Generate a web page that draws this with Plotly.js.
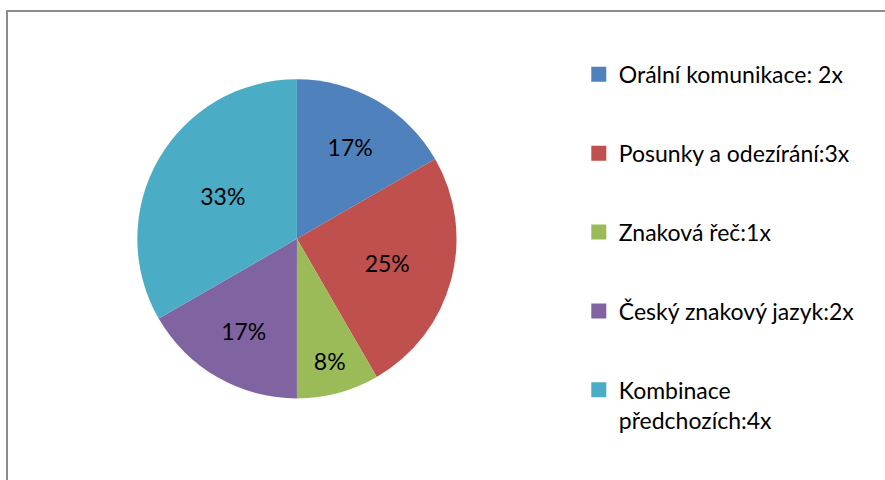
<!DOCTYPE html>
<html>
<head>
<meta charset="utf-8">
<script src="https://cdn.plot.ly/plotly-3.0.1.min.js"></script>
<style>
  html, body { margin: 0; padding: 0; background: #fff; overflow: hidden; }
  #chart { width: 885px; height: 480px; }
  #frame { position: absolute; left: 6px; top: 10px; width: 900px; height: 500px;
           border-left: 2px solid #8c8c8c; border-top: 2px solid #8c8c8c; pointer-events: none; }
</style>
</head>
<body>
<div id="chart"></div>
<div id="frame"></div>
<script>
const labels = ["Orální komunikace: 2x", "Posunky a odezírání:3x", "Znaková řeč:1x", "Český znakový jazyk:2x", "Kombinace<br>předchozích:4x"];
const counts = [2, 3, 1, 2, 4];
const colors = ["#4F81BD", "#C0504D", "#9BBB59", "#8064A2", "#4BACC6"];

const FONT = "Lato, 'Open Sans', sans-serif";

const traces = [{
  type: "pie",
  values: counts,
  labels: labels,
  sort: false,
  direction: "clockwise",
  rotation: 0,
  marker: { colors: colors, line: { width: 0 } },
  texttemplate: "%{percent:.0%}",
  textposition: "inside",
  insidetextorientation: "horizontal",
  textfont: { family: FONT, size: 23, color: "#000" },
  hoverinfo: "label+percent",
  showlegend: false,
  domain: { x: [0.155, 0.516], y: [0.17, 0.835] }
}];

labels.forEach((lab, i) => {
  traces.push({
    type: "scatter", mode: "markers",
    x: [null], y: [null],
    name: lab,
    legendgroup: "g" + i,
    marker: { symbol: "square", size: 15, color: colors[i] },
    showlegend: true,
    hoverinfo: "skip"
  });
});

const layout = {
  width: 885, height: 480,
  margin: { l: 0, r: 0, t: 0, b: 0 },
  paper_bgcolor: "#fff",
  plot_bgcolor: "rgba(0,0,0,0)",
  xaxis: { visible: false, domain: [0.9, 0.91] },
  yaxis: { visible: false, domain: [0.9, 0.91] },
  showlegend: true,
  legend: {
    x: 0.654, y: 0.89, xanchor: "left", yanchor: "top",
    font: { family: FONT, size: 23, color: "#000" },
    tracegroupgap: 46,
    valign: "top",
    itemclick: false, itemdoubleclick: false,
    bgcolor: "rgba(0,0,0,0)"
  }
};

Plotly.newPlot("chart", traces, layout, { displayModeBar: false, staticPlot: true });
</script>
</body>
</html>
